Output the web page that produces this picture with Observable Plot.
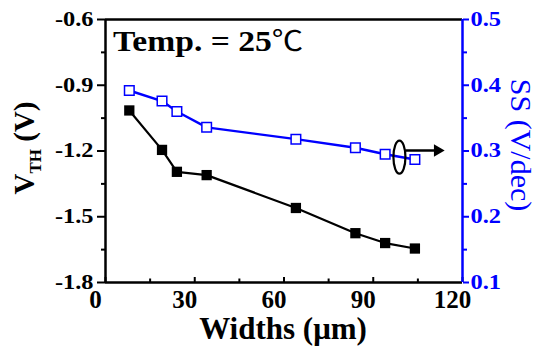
<!DOCTYPE html>
<html><head><meta charset="utf-8">
<script src="https://cdn.jsdelivr.net/npm/d3@7"></script>
<script src="https://cdn.jsdelivr.net/npm/@observablehq/plot@0.6"></script>
<style>body{margin:0;background:#fff}</style>
</head><body><div id="chart"></div>
<script>
// ---- data ----
const widths = [8, 19, 24, 34, 64, 84, 94, 104];
const vth = [-1.015, -1.195, -1.295, -1.31, -1.46, -1.575, -1.62, -1.645];
const ss = [0.392, 0.376, 0.360, 0.336, 0.318, 0.305, 0.295, 0.287];
const xTicks = [0, 30, 60, 90, 120];
const xMinor = [15, 45, 75, 105];
const vthTicks = [-1.8, -1.5, -1.2, -0.9, -0.6];
const vthMinor = [-1.65, -1.35, -1.05, -0.75];
const ssTicks = [0.1, 0.2, 0.3, 0.4, 0.5];
const ssMinor = [0.15, 0.25, 0.35, 0.45];
const tempText = "Temp. = 25";
const tempUnit = "℃";
const xTitle = "Widths (μm)";
const yTitleMain = "V", yTitleSub = "TH", yTitleUnit = " (V)";
const ssTitle = "SS (V/dec)";
const ellipsePos = [{x: 98.8, y: -1.228}];
const arrowShaft = [{x1: 100.8, x2: 111.8, y: -1.198}];
const arrowHead = [{x: 111.6, y: -1.198}];

// map SS onto the VTH scale (dual axis)
const ssToV = d3.scaleLinear().domain([0.1, 0.5]).range([-1.8, -0.6]);
const vthData = widths.map((w, i) => ({w, v: vth[i]}));
const ssData = widths.map((w, i) => ({w, v: ssToV(ss[i])}));

const blue = "#0000ff";
const ellipseSymbol = {
  draw(ctx) {
    const rx = 6, ry = 16.5, k = 0.5523;
    ctx.moveTo(rx, 0);
    ctx.bezierCurveTo(rx, ry * k, rx * k, ry, 0, ry);
    ctx.bezierCurveTo(-rx * k, ry, -rx, ry * k, -rx, 0);
    ctx.bezierCurveTo(-rx, -ry * k, -rx * k, -ry, 0, -ry);
    ctx.bezierCurveTo(rx * k, -ry, rx, -ry * k, rx, 0);
    ctx.closePath();
  }
};

const chart = Plot.plot({
  width: 540, height: 349,
  marginLeft: 105, marginRight: 78, marginTop: 19, marginBottom: 67,
  style: {fontFamily: "'Liberation Serif', serif", fontWeight: "bold", fontSize: "20px", background: "#fff", color: "#000"},
  x: {domain: [0, 120]},
  y: {domain: [-1.8, -0.6]},
  marks: [
    // x axis
    Plot.axisX({ticks: xTicks, tickSize: -5, strokeWidth: 2, text: null}),
    Plot.axisX({ticks: xMinor, tickSize: -3.5, strokeWidth: 2, text: null}),
    Plot.axisX({ticks: xTicks, tickSize: 0, tickPadding: 8, dx: -10, fontSize: 25, label: null}),
    // left axis
    Plot.axisY({ticks: vthTicks, tickSize: 8, strokeWidth: 2, tickPadding: 4, fontSize: 20, label: null, tickFormat: d => d.toFixed(1)}),
    Plot.axisY({ticks: vthMinor, tickSize: 4, strokeWidth: 2, text: null}),
    // right axis (SS)
    Plot.axisY({anchor: "right", ticks: ssTicks.map(ssToV), tickSize: 6, strokeWidth: 2, tickPadding: 2, color: blue, fontSize: 20, label: null,
      tickFormat: v => ssToV.invert(v).toFixed(1)}),
    Plot.axisY({anchor: "right", ticks: ssMinor.map(ssToV), tickSize: 4, strokeWidth: 2, color: blue, text: null}),
    // frame
    Plot.ruleY([-0.6], {stroke: "#000", strokeWidth: 2.5}),
    Plot.ruleY([-1.8], {stroke: "#000", strokeWidth: 2.5}),
    Plot.ruleX([0], {stroke: "#000", strokeWidth: 2.5}),
    Plot.ruleX([120], {stroke: blue, strokeWidth: 2.5}),
    // series
    Plot.line(ssData, {x: "w", y: "v", stroke: blue, strokeWidth: 2.4}),
    Plot.dot(ssData, {x: "w", y: "v", symbol: "square", r: 5.4, stroke: blue, strokeWidth: 1.5, fill: "#fff"}),
    Plot.line(vthData, {x: "w", y: "v", stroke: "#000", strokeWidth: 2.2}),
    Plot.dot(vthData, {x: "w", y: "v", symbol: "square", r: 5.8, fill: "#000", stroke: "none"}),
    // annotation
    Plot.dot(ellipsePos, {x: "x", y: "y", symbol: ellipseSymbol, fill: "none", stroke: "#000", strokeWidth: 2.2}),
    Plot.link(arrowShaft, {x1: "x1", x2: "x2", y1: "y", y2: "y", stroke: "#000", strokeWidth: 2.5}),
    Plot.dot(arrowHead, {x: "x", y: "y", symbol: "triangle", r: 4.6, rotate: 90, fill: "#000", stroke: "none"})
  ]
});

const svg = d3.select(chart);
// horizontally stretch y tick labels like the reference (scale about each label's anchor)
svg.selectAll('g[aria-label="y-axis tick label"] text').each(function() {
  const t = this.getAttribute("transform") || "";
  this.setAttribute("transform", `${t} scale(1.22,1)`);
});

// Temp annotation
const tt = svg.append("text").attr("transform", "translate(113,51) scale(1.12,1)").attr("fill", "#000")
  .attr("text-anchor", "start").attr("font-size", 30).attr("font-weight", "bold");
tt.append("tspan").text(tempText);
tt.append("tspan").attr("font-weight", "normal").attr("font-family", "'Noto Sans CJK SC', sans-serif").attr("font-size", 28).text(tempUnit);

// x title
svg.append("text").attr("x", 283).attr("y", 339).attr("text-anchor", "middle")
  .attr("font-size", 31).attr("font-weight", "bold").attr("fill", "#000").text(xTitle);
// left title with subscript
const lt = svg.append("text").attr("transform", "translate(34,148) rotate(-90)").attr("text-anchor", "middle")
  .attr("font-size", 29).attr("font-weight", "bold").attr("fill", "#000");
lt.append("tspan").text(yTitleMain);
lt.append("tspan").attr("font-size", 17).attr("dy", 7).text(yTitleSub);
lt.append("tspan").attr("dy", -7).text(yTitleUnit);
// right title
svg.append("text").attr("transform", "translate(511,145) rotate(90)").attr("text-anchor", "middle")
  .attr("font-size", 30).attr("font-weight", "normal").attr("fill", blue).text(ssTitle);

document.getElementById("chart").appendChild(chart);
</script>
</body></html>
